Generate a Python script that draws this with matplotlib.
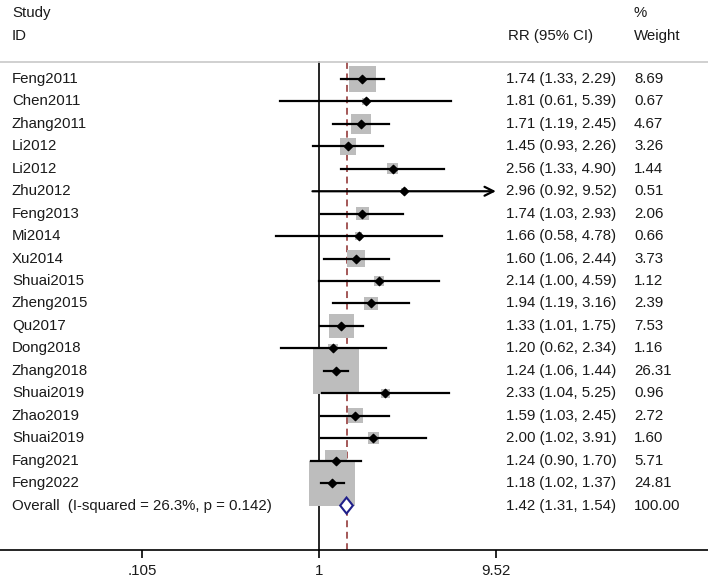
import matplotlib
matplotlib.use('Agg')
import matplotlib.pyplot as plt
from matplotlib.patches import Polygon
from matplotlib.transforms import blended_transform_factory
import numpy as np

plt.rcParams['font.family'] = ['Liberation Sans', 'DejaVu Sans']

# study data
studies = ['Feng2011', 'Chen2011', 'Zhang2011', 'Li2012', 'Li2012', 'Zhu2012', 'Feng2013',
           'Mi2014', 'Xu2014', 'Shuai2015', 'Zheng2015', 'Qu2017', 'Dong2018', 'Zhang2018',
           'Shuai2019', 'Zhao2019', 'Shuai2019', 'Fang2021', 'Feng2022']
rr = [1.74, 1.81, 1.71, 1.45, 2.56, 2.96, 1.74, 1.66, 1.60, 2.14, 1.94, 1.33, 1.20, 1.24,
      2.33, 1.59, 2.00, 1.24, 1.18]
lo = [1.33, 0.61, 1.19, 0.93, 1.33, 0.92, 1.03, 0.58, 1.06, 1.00, 1.19, 1.01, 0.62, 1.06,
      1.04, 1.03, 1.02, 0.90, 1.02]
hi = [2.29, 5.39, 2.45, 2.26, 4.90, 9.52, 2.93, 4.78, 2.44, 4.59, 3.16, 1.75, 2.34, 1.44,
      5.25, 2.45, 3.91, 1.70, 1.37]
weight = [8.69, 0.67, 4.67, 3.26, 1.44, 0.51, 2.06, 0.66, 3.73, 1.12, 2.39, 7.53, 1.16, 26.31,
          0.96, 2.72, 1.60, 5.71, 24.81]

overall_label = 'Overall  (I-squared = 26.3%, p = 0.142)'
overall_rr, overall_lo, overall_hi = 1.42, 1.31, 1.54

tick_vals = [0.105, 1, 9.52]
tick_labels = ['.105', '1', '9.52']
x_max = 9.52  # CI lines are cut off here

W, H = 708, 584
fig = plt.figure(figsize=(W / 100, H / 100), dpi=100)
ax = fig.add_axes([0, 0, 1, 1])
ax.set_xscale('log')
# 1 sits at x=319px, 78.5 px per log unit
ax.set_xlim(np.exp(-319 / 78.5), np.exp((W - 319) / 78.5))
# row i at y = 79 + 22.45*i px
ax.set_ylim((H - 79) / 22.45, -79 / 22.45)

def py(p):
    return (p - 79) / 22.45

txt = blended_transform_factory(ax.transAxes, ax.transData)
tcol = '#1a1a1a'
fs = 10.8

n = len(studies)
rows = np.arange(n)

# header
ax.text(12 / W, py(13), 'Study', transform=txt, fontsize=fs, color=tcol, va='center')
ax.text(12 / W, py(36), 'ID', transform=txt, fontsize=fs, color=tcol, va='center')
ax.text(508 / W, py(36), 'RR (95% CI)', transform=txt, fontsize=fs, color=tcol, va='center')
ax.text(634 / W, py(13), '%', transform=txt, fontsize=fs, color=tcol, va='center')
ax.text(634 / W, py(36), 'Weight', transform=txt, fontsize=fs, color=tcol, va='center')
ax.axhline(py(62), color='#c8c8c8', lw=1.2)

# reference lines
ax.plot([1, 1], [py(62), py(550)], color='black', lw=1.2, zorder=1)
ax.plot([overall_rr, overall_rr], [py(62), py(550)], color='#8b2a2a', lw=1.1,
        dashes=(4.5, 3), zorder=1)

# weight boxes (side ~ 9.05 px * sqrt(weight))
side_pt = 9.05 * np.sqrt(weight) * 0.72
ax.scatter(rr, rows, s=side_pt ** 2, marker='s', color='#bdbdbd', linewidths=0, zorder=2)

# confidence intervals
for i in range(n):
    if hi[i] >= x_max:
        ax.annotate('', xy=(x_max, i), xytext=(lo[i], i),
                    arrowprops=dict(arrowstyle='->', color='black', lw=1.6,
                                    mutation_scale=16, shrinkA=0, shrinkB=0), zorder=3)
    else:
        ax.plot([lo[i], hi[i]], [i, i], color='black', lw=1.6, zorder=3)
ax.scatter(rr, rows, s=18, marker='D', color='black', zorder=4)

# study text
for i in range(n):
    ax.text(12 / W, i, studies[i], transform=txt, fontsize=fs, color=tcol, va='center')
    ax.text(506 / W, i, '%.2f (%.2f, %.2f)' % (rr[i], lo[i], hi[i]), transform=txt,
            fontsize=fs, color=tcol, va='center')
    ax.text(634 / W, i, '%.2f' % weight[i], transform=txt, fontsize=fs, color=tcol, va='center')

# overall
yo = n
ax.text(12 / W, yo, overall_label, transform=txt, fontsize=fs, color=tcol, va='center')
ax.text(506 / W, yo, '%.2f (%.2f, %.2f)' % (overall_rr, overall_lo, overall_hi), transform=txt,
        fontsize=fs, color=tcol, va='center')
ax.text(634 / W, yo, '%.2f' % 100, transform=txt, fontsize=fs, color=tcol, va='center')
dh = 8 / 22.45
diamond = Polygon([(overall_lo, yo), (overall_rr, yo - dh), (overall_hi, yo), (overall_rr, yo + dh)],
                  closed=True, facecolor='white', edgecolor='#1f1f8a', lw=1.5, zorder=5)
ax.add_patch(diamond)

# x axis
for s in ['top', 'left', 'right']:
    ax.spines[s].set_visible(False)
ax.spines['bottom'].set_position(('data', py(550)))
ax.spines['bottom'].set_linewidth(1.2)
ax.set_xticks(tick_vals)
ax.set_xticklabels(tick_labels)
ax.minorticks_off()
ax.tick_params(axis='x', length=6, width=1.2, pad=4, labelsize=fs, labelcolor=tcol)
ax.set_yticks([])

fig.savefig('out.png', dpi=100)
